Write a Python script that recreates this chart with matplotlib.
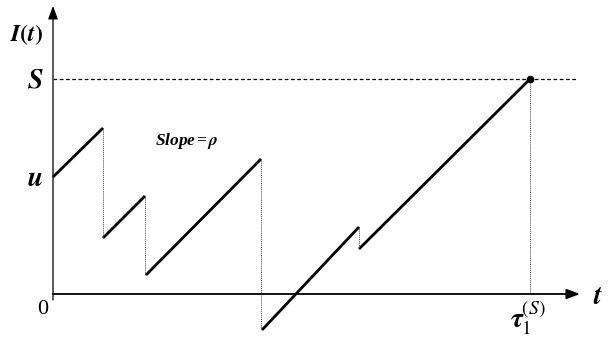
import matplotlib
matplotlib.use("Agg")
import matplotlib.pyplot as plt

plt.rcParams['mathtext.fontset'] = 'stix'

# inventory path: each segment rises at rate rho, then drops at a jump
seg_start_t = [0, 50, 93, 209, 306]
seg_end_t = [50, 92, 208, 306, 477]
seg_start_lvl = [117, 56, 19, -36, 45]
seg_end_lvl = [166, 98, 135, 67, 215]
S_level = 215
tau_time = 477

fig = plt.figure(figsize=(6.09, 3.38), dpi=100)
ax = fig.add_axes([0, 0, 1, 1])
ax.set_xlim(-53, 556)
ax.set_ylim(-44, 294)
ax.axis('off')

# axes with arrow heads
ax.annotate('', xy=(527, 0), xytext=(0, 0),
            arrowprops=dict(arrowstyle='-|>,head_length=0.8,head_width=0.3',
                            color='black', lw=1.3, shrinkA=0, shrinkB=0))
ax.annotate('', xy=(0, 288), xytext=(0, -6),
            arrowprops=dict(arrowstyle='-|>,head_length=0.8,head_width=0.3',
                            color='black', lw=0.9, shrinkA=0, shrinkB=0))

# level S
ax.plot([0, 525], [S_level, S_level], color='black', lw=0.9, ls=(0, (3, 2)))

# sawtooth segments
for t0, t1, y0, y1 in zip(seg_start_t, seg_end_t, seg_start_lvl, seg_end_lvl):
    ax.plot([t0, t1], [y0, y1], color='black', lw=2.0, solid_capstyle='butt')

# dotted drops at the jumps
for i in range(len(seg_end_t) - 1):
    ax.plot([seg_end_t[i], seg_end_t[i]], [seg_end_lvl[i], seg_start_lvl[i + 1]],
            color='#444444', lw=0.7, ls=(0, (1, 1)))
ax.plot([tau_time, tau_time], [S_level, 0], color='#444444', lw=0.7, ls=(0, (1, 1)))
ax.plot([tau_time], [S_level], 'o', color='black', ms=4.5)

serif = 'Liberation Serif'
ax.text(-26, 259, r'$\boldsymbol{I(t)}$', fontsize=17, ha='center', va='center')
ax.text(-18, S_level - 1, r'$\boldsymbol{S}$', fontsize=20, ha='center', va='center')
ax.text(-18, seg_start_lvl[0] - 1, r'$\boldsymbol{u}$', fontsize=20, ha='center', va='center')
ax.text(-10, -16, '0', fontsize=16, family=serif, ha='center', va='center')
ax.text(545, -2, r'$\boldsymbol{t}$', fontsize=20, ha='center', va='center')
ax.text(tau_time - 2, -24, r'$\boldsymbol{\tau}_1^{(S)}$', fontsize=20, ha='center', va='center')
ax.text(134, 153, r'Slope$\,$=$\,\boldsymbol{\rho}$', fontsize=12.5, family=serif,
        weight='bold', style='italic', ha='center', va='center')

fig.savefig('out.png', dpi=100)
